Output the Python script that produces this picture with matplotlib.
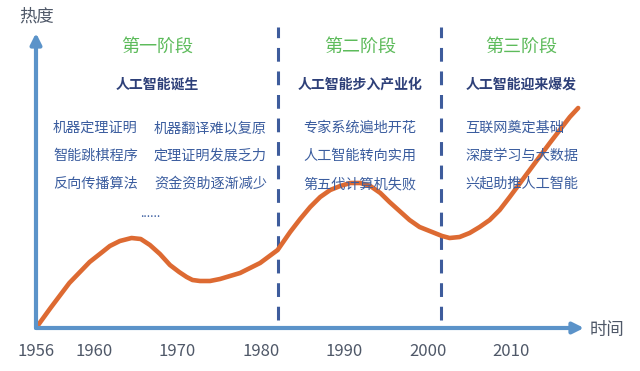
import numpy as np
import matplotlib.pyplot as plt

plt.rcParams['font.family'] = ['Noto Sans CJK SC', 'DejaVu Sans']

# Curve: year vs. "heat" (arbitrary units)
years = [1956.0, 1957.0, 1958.3, 1959.7, 1961.0, 1961.9, 1963.1, 1964.5, 1965.6,
         1966.7, 1967.9, 1969.1, 1970.2, 1971.1, 1971.8, 1972.7, 1973.9, 1975.1,
         1977.5, 1979.9, 1982.0, 1983.5, 1984.7, 1985.9, 1987.1, 1988.3, 1989.5,
         1990.7, 1991.9, 1993.1, 1994.3, 1995.4, 1996.6, 1997.8, 1999.0, 2000.2,
         2001.7, 2002.6, 2003.8, 2005.0, 2006.2, 2007.4, 2008.6, 2009.8, 2012.2,
         2014.6, 2017.0, 2018.0]
heat = [0, 20, 45, 66, 76, 82, 87, 90, 89,
        83, 74, 63, 56, 51, 48, 47, 47, 49,
        55, 65, 78, 96, 109, 121, 131, 138, 142,
        145, 145, 142, 135, 126, 117, 108, 101, 97,
        92, 90, 91, 95, 101, 108, 118, 131, 158,
        185, 211, 220]

stage_bounds = [1982.0, 2001.6]
tick_years = [1956, 1960, 1970, 1980, 1990, 2000, 2010]
tick_labels = ['1956', '1960', '1970', '1980', '1990', '2000', '2010']

stage_titles = ['第一阶段', '第二阶段', '第三阶段']
stage_subtitles = ['人工智能诞生', '人工智能步入产业化', '人工智能迎来爆发']
stage1_left = ['机器定理证明', '智能跳棋程序', '反向传播算法']
stage1_right = ['机器翻译难以复原', '定理证明发展乏力', '资金资助逐渐减少']
stage2_items = ['专家系统遍地开花', '人工智能转向实用', '第五代计算机失败']
stage3_items = ['互联网奠定基础', '深度学习与大数据', '兴起助推人工智能']

W, H = 640, 371
fig = plt.figure(figsize=(W / 100, H / 100), dpi=100)
ax = fig.add_axes([36 / W, 43 / H, (584 - 36) / W, 295 / H])


# the first four years are squeezed on the original axis
def fwd(x):
    return np.interp(x, [1956, 1960, 2030], [0, 58, 58 + 70 * 8.35])


def inv(p):
    return np.interp(p, [0, 58, 58 + 70 * 8.35], [1956, 1960, 2030])


ax.set_xscale('function', functions=(fwd, inv))
ax.set_xlim(1956, 2018.7)
ax.set_ylim(0, 295)

axis_col = '#5b93c9'
curve_col = '#dd6a32'
dash_col = '#3e5c9c'

for b in stage_bounds:
    ax.plot([b, b], [8, 301], color=dash_col, lw=2.2, ls=(0, (4.5, 3.2)),
            clip_on=False, zorder=2)

ax.plot(years, heat, color=curve_col, lw=3.3, solid_capstyle='round',
        solid_joinstyle='round', zorder=3)

for s in ax.spines.values():
    s.set_visible(False)
ax.annotate('', xy=(1.0, 0), xytext=(0, 0), xycoords='axes fraction',
            arrowprops=dict(arrowstyle='-|>', lw=3, color=axis_col,
                            mutation_scale=16, shrinkA=0, shrinkB=0))
ax.annotate('', xy=(0, 1.0), xytext=(0, 0), xycoords='axes fraction',
            arrowprops=dict(arrowstyle='-|>', lw=3, color=axis_col,
                            mutation_scale=16, shrinkA=0, shrinkB=0))

ax.set_xticks(tick_years)
ax.set_xticklabels(tick_labels)
ax.tick_params(axis='x', length=0, pad=11, labelsize=12, labelcolor='#4f5868')
ax.set_yticks([])

fig.text(37 / W, 1 - 17 / H, '热度', ha='center', va='center', fontsize=12.5,
         color='#4f5868')
fig.text(590 / W, 1 - 330 / H, '时间', ha='left', va='center', fontsize=12.5,
         color='#4f5868')

title_col = '#5dbb5b'
sub_col = '#2d3f78'
item_col = '#3b5d9f'
title_x = [157, 360, 521]
for t, s, x in zip(stage_titles, stage_subtitles, title_x):
    fig.text(x / W, 1 - 47 / H, t, ha='center', va='center', fontsize=13,
             color=title_col)
    fig.text(x / W, 1 - 85 / H, s, ha='center', va='center', fontsize=10,
             fontweight='bold', color=sub_col)

item_y = [128, 156, 184]
for col, x0 in [(stage1_left, 53), (stage1_right, 154), (stage2_items, 303),
                (stage3_items, 465)]:
    for txt, y in zip(col, item_y):
        fig.text(x0 / W, 1 - y / H, txt, ha='left', va='center', fontsize=10.2,
                 color=item_col)
fig.text(150 / W, 1 - 214 / H, '......', ha='center', va='center', fontsize=9,
         color=item_col)

fig.savefig('out.png', dpi=100)
